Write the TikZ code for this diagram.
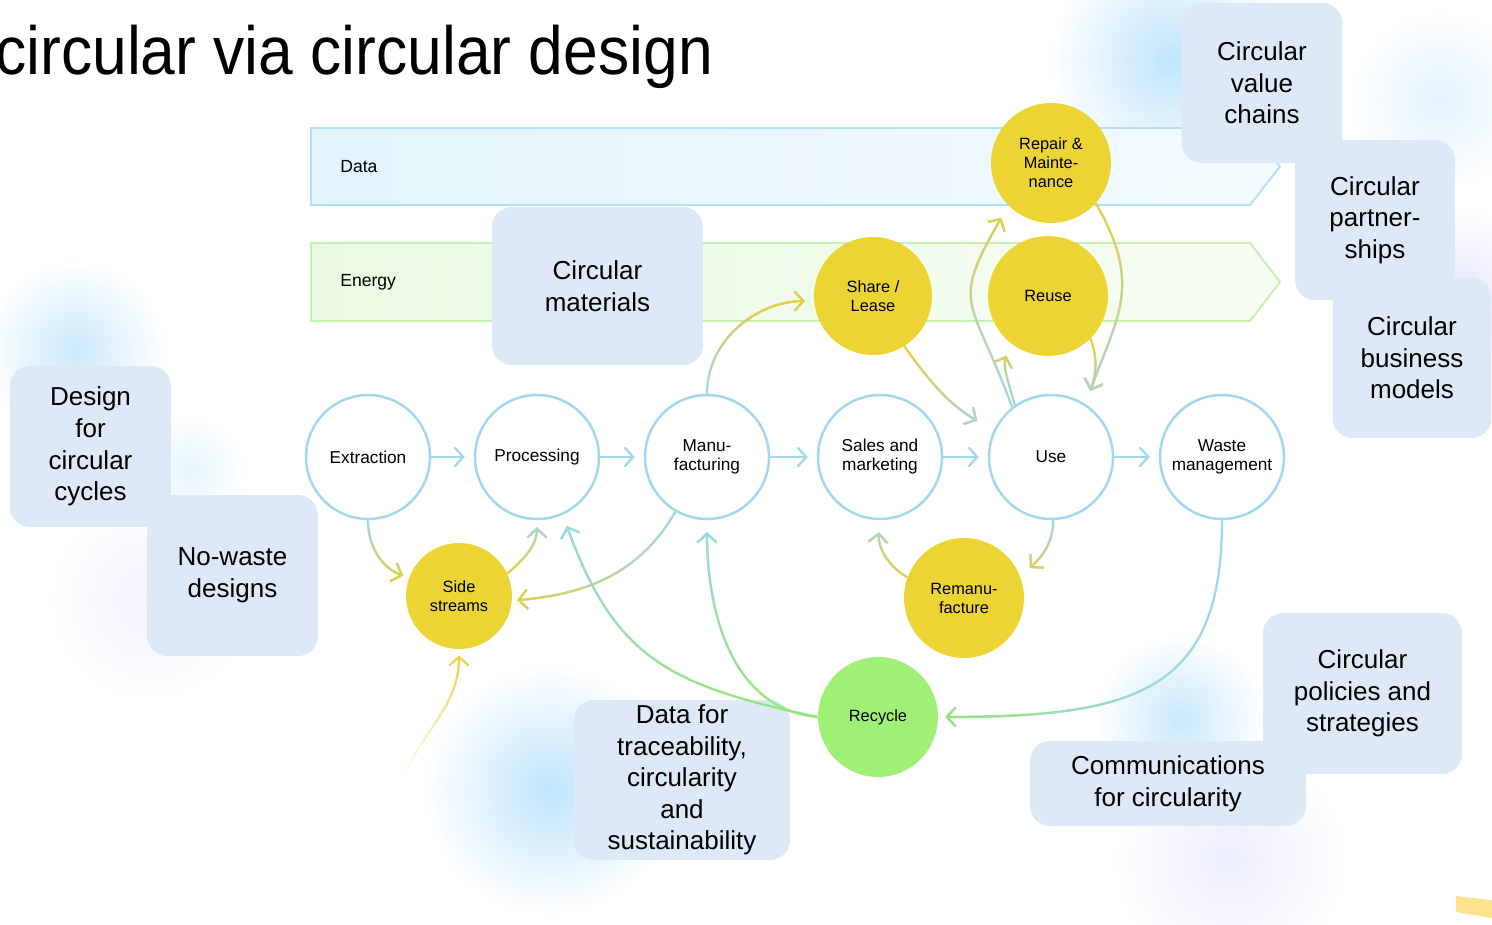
\documentclass[tikz,border=0pt]{standalone}
\usepackage{fontspec}
\setmainfont{Liberation Sans}
\usepackage{tikz}
\usetikzlibrary{arrows.meta,fadings,positioning}

\definecolor{flowblue}{RGB}{160,216,240}
\definecolor{flowyellow}{RGB}{232,208,56}
\definecolor{flowgreen}{RGB}{150,230,120}
\definecolor{loopyellow}{RGB}{236,212,52}
\definecolor{loopgreen}{RGB}{160,240,120}
\definecolor{topicblue}{RGB}{221,233,246}
\definecolor{databorder}{RGB}{178,224,246}
\definecolor{datafill}{RGB}{226,244,252}
\definecolor{energyborder}{RGB}{196,240,176}
\definecolor{energyfill}{RGB}{234,250,226}
\definecolor{glowblue}{RGB}{175,222,250}
\definecolor{glowlilac}{RGB}{215,218,250}
\definecolor{stripeyellow}{RGB}{252,226,140}

\tikzfading[name=fadeN, top color=transparent!0, bottom color=transparent!100]
\tikzfading[name=fadeS, top color=transparent!100, bottom color=transparent!0]
\tikzfading[name=fadeW, left color=transparent!0, right color=transparent!100]
\tikzfading[name=glowfade, inner color=transparent!0, outer color=transparent!100]

\tikzset{
  stage/.style={circle, draw=flowblue, line width=1.4pt, fill=white, minimum size=2.48cm,
    inner sep=0pt, align=center, font=\fontsize{9.8}{10.8}\selectfont},
  loopstage/.style={circle, fill=loopyellow, minimum size=2.4cm, inner sep=0pt,
    align=center, font=\fontsize{9.3}{10.8}\selectfont},
  topic/.style={fill=topicblue, rounded corners=0.4cm, inner sep=0pt, align=center,
    font=\fontsize{14.8}{18}\selectfont},
  band/.style={line width=1.1pt},
  bandlabel/.style={anchor=west, inner sep=0pt, font=\fontsize{10}{12}\selectfont},
  flow/.style={line width=1.3pt, -{Straight Barb[length=5pt,width=11pt]}},
}

% one connector: start colour, end colour blended in with a fading
\newcommand{\flowpath}[5]{%
  \draw[flow, #2, #1] #5;
  \draw[flow, #3, #1, path fading=#4] #5;}

\begin{document}
\begin{tikzpicture}[x=0.02cm, y=0.02cm]
\useasboundingbox (0,0) rectangle (1492,924);

% soft glows
\foreach \gx/\gy/\gr/\gc in {1170/864/120/glowblue, 1440/824/90/glowblue!45,
    1465/640/75/glowlilac!70, 75/574/90/glowblue!80, 190/454/55/glowblue!40,
    150/324/100/glowlilac!40, 550/134/125/glowblue, 1180/204/85/glowblue!85,
    1230/64/115/glowlilac!60}
  \fill[\gc, path fading=glowfade, fill opacity=0.8] (\gx,\gy) circle (\gr);

% title
\node[anchor=base west, inner sep=0pt, font=\fontsize{38.8}{40}\selectfont] (title)
  at (-5,849) {\scalebox{0.915}[1]{circular via circular design}};

% data and energy bands
\draw[band, draw=databorder, left color=datafill, right color=datafill!40!white]
  (311,719) -- (311,796) -- (1250,796) -- (1280,757.5) -- (1250,719) -- cycle;
\draw[band, draw=energyborder, left color=energyfill, right color=energyfill!40!white]
  (311,603) -- (311,681) -- (1250,681) -- (1280,642) -- (1250,603) -- cycle;
\node[bandlabel] (datalabel) at (340,757) {Data};
\node[bandlabel] (energylabel) at (340,642) {Energy};

% topic boxes
\node[topic, minimum width=4.22cm, minimum height=3.16cm] (materials) at (597.5,638) {Circular\\materials};
\node[topic, minimum width=3.22cm, minimum height=3.2cm] (valuechains) at (1262,841) {Circular\\value\\chains};
\node[topic, minimum width=3.2cm, minimum height=3.2cm] (partnerships) at (1375,704) {Circular\\partner-\\ships};
\node[topic, minimum width=3.18cm, minimum height=3.2cm] (business) at (1412,566) {Circular\\business\\models};
\node[topic, minimum width=3.22cm, minimum height=3.22cm] (designcycles) at (90.5,477.5) {Design\\for\\circular\\cycles};
\node[topic, minimum width=3.42cm, minimum height=3.22cm] (nowaste) at (232.5,348.5) {No-waste\\designs};
\node[topic, minimum width=4.32cm, minimum height=3.2cm] (datatrace) at (682,144) {Data for\\traceability,\\circularity\\and\\sustainability};
\node[topic, minimum width=3.98cm, minimum height=3.22cm] (policies) at (1362.5,230.5) {Circular\\policies and\\strategies};
\node[topic, minimum width=5.52cm, minimum height=1.7cm] (comms) at (1168,140.5) {Communications\\for circularity};

% linear chain
\node[stage] (extraction) at (368,467) {Extraction};
\node[stage] (processing) at (537,467) {Processing};
\node[stage] (manufacturing) at (707,467) {Manu-\\facturing};
\node[stage] (sales) at (880,467) {Sales and\\marketing};
\node[stage] (use) at (1051,467) {Use};
\node[stage] (waste) at (1222,467) {Waste\\management};

% loops
\node[loopstage, minimum size=2.12cm] (side) at (459,328) {Side\\streams};
\node[loopstage, minimum size=2.36cm] (share) at (873,628) {Share /\\Lease};
\node[loopstage] (repair) at (1051,761) {Repair \&\\Mainte-\\nance};
\node[loopstage] (reuse) at (1048,628) {Reuse};
\node[loopstage] (reman) at (964,326) {Remanu-\\facture};
\node[loopstage, fill=loopgreen] (recycle) at (878,207) {Recycle};
\coordinate (inflow) at (403,147);

\foreach \a/\b in {extraction/processing, processing/manufacturing, manufacturing/sales, sales/use, use/waste}
  \draw[flow, flowblue, shorten >=0.18cm] (\a) -- (\b);

\flowpath{shorten >=0.12cm}{flowblue}{flowyellow}{fadeS}{(extraction.south) to[out=-90,in=160] (side.160)}
\flowpath{shorten >=0.14cm}{flowyellow}{flowblue}{fadeN}{(side.25) to[out=40,in=-90] (processing.south)}
\flowpath{shorten >=0.1cm}{flowblue}{flowyellow}{fadeW}{(manufacturing.240) to[out=240,in=5] (side.-5)}
\flowpath{shorten >=0.18cm}{flowblue}{flowyellow}{fadeN}{(manufacturing.north) to[out=90,in=180] (share.185)}
\flowpath{shorten >=0.38cm}{flowyellow}{flowblue}{fadeS}{(share.-58) to[out=-55,in=150] (use.155)}
\flowpath{shorten >=0.28cm}{flowblue}{flowyellow}{fadeN}{(use.128) to[out=110,in=240,looseness=1.5] (repair.225)}
\flowpath{shorten >=0.26cm}{flowblue}{flowyellow}{fadeN}{(use.125) to[out=105,in=250] (reuse.232)}
\flowpath{shorten >=0.28cm}{flowyellow}{flowblue}{fadeS}{(repair.-42) to[out=-60,in=70,looseness=1.2] (use.57)}
\flowpath{shorten >=0.28cm}{flowyellow}{flowblue}{fadeS}{(reuse.-45) to[out=-70,in=70] (use.57)}
\flowpath{shorten >=0.26cm}{flowblue}{flowyellow}{fadeS}{(use.-88) to[out=-90,in=45] (reman.20)}
\flowpath{shorten >=0.24cm}{flowyellow}{flowblue}{fadeN}{(reman.160) to[out=150,in=-95] (sales.south)}
\flowpath{shorten >=0.14cm}{flowblue}{flowgreen}{fadeW}{(waste.south) .. controls +(0,-170) and +(200,0) .. (recycle.east)}
\flowpath{shorten >=0.24cm}{flowgreen}{flowblue}{fadeN}{(recycle.west) to[out=168,in=-70,looseness=1.2] (processing.-66)}
\flowpath{shorten >=0.24cm}{flowgreen}{flowblue}{fadeN}{(recycle.west) to[out=175,in=-90] (manufacturing.south)}
\draw[flow, flowyellow, shorten >=0.12cm, path fading=fadeN] (inflow) to[out=65,in=-90] (side.south);

% corner stripe
\fill[stripeyellow] (1456,28) -- (1492,24) -- (1492,6) -- (1456,12) -- cycle;
\end{tikzpicture}
\end{document}
